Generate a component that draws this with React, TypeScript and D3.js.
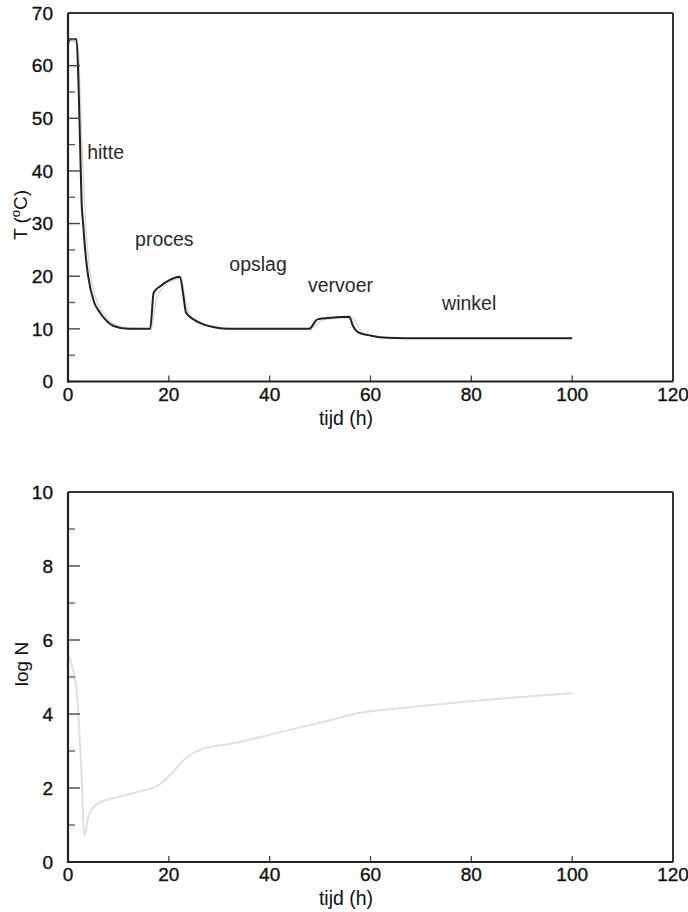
import React from "react";
import * as d3 from "d3";

// Temperature of the chain (dark line) and product temperature (light line)
const tempTime = [0, 0.3, 1.7, 2.1, 2.4, 2.7, 3.0, 3.5, 4.0, 5.2, 6.2, 7.2, 9.2, 12, 16.3, 17.0, 18.3, 20.2, 22.2, 22.9, 23.4, 24.9, 27, 29, 32, 47.8, 49.5, 52.2, 55.8, 56.5, 57.5, 60.1, 63.4, 70, 100];
const tempChain = [64, 65, 65, 56, 45, 34, 30, 24, 20, 15, 13.3, 12, 10.5, 10, 10, 16.9, 18.1, 19.3, 19.9, 16.2, 13.1, 11.8, 10.8, 10.3, 10, 10, 11.8, 12.1, 12.3, 10.6, 9.4, 8.7, 8.3, 8.2, 8.2];

const productTime = [0, 2.0, 2.5, 3.0, 3.5, 4.2, 5.3, 7, 9, 12, 16.5, 17.5, 18.5, 20.5, 22.5, 23.3, 24, 26, 29, 32, 48.2, 49.5, 51, 56.5, 57.5, 58.5, 61, 65, 100];
const productTemp = [65, 64, 52, 40, 30, 22, 16.5, 13, 11, 10.2, 10, 15.5, 17.5, 19, 19.8, 15, 13, 11.2, 10.4, 10, 10, 11, 11.8, 12.1, 10.5, 9.3, 8.6, 8.2, 8.2];

// Microbial count over the same period
const countTime = [0, 1, 1.8, 2.3, 2.8, 3.2, 4.2, 6.2, 10.1, 14, 18, 20.6, 23.3, 26.6, 32.6, 40.9, 52.2, 57.4, 62, 78.6, 100];
const logCount = [5.6, 5.2, 4.5, 3.4, 2.0, 0.7, 1.3, 1.6, 1.76, 1.9, 2.08, 2.4, 2.8, 3.05, 3.2, 3.47, 3.84, 4.02, 4.1, 4.33, 4.56];

const xTicks = [0, 20, 40, 60, 80, 100, 120];
const tempTicks = [0, 10, 20, 30, 40, 50, 60, 70];
const countTicks = [0, 2, 4, 6, 8, 10];

const phaseNames = ["hitte", "proces", "opslag", "vervoer", "winkel"];
const phaseTime = [3.8, 13.3, 32, 47.6, 74.2];
const phaseTemp = [42.2, 25.8, 20.9, 17, 13.6];

const FONT = "'Liberation Sans', Arial, Helvetica, sans-serif";

type Panel = {
  top: number;
  bottom: number;
  yMax: number;
  yTicks: number[];
  minorStep: number;
};

const LEFT = 68;
const RIGHT = 673;

function Frame({ p, x, y }: { p: Panel; x: d3.ScaleLinear<number, number>; y: d3.ScaleLinear<number, number> }) {
  const minor = d3.range(0, p.yMax + 1e-9, p.minorStep).filter((v) => !p.yTicks.includes(v));
  const label = { fontSize: 19, fill: "#111", fontFamily: FONT, stroke: "#111", strokeWidth: 0.35 };
  return (
    <g>
      {/* y ticks, inward */}
      {p.yTicks.map((v) => (
        <line key={"M" + v} x1={LEFT} x2={LEFT + 12} y1={y(v)} y2={y(v)} stroke="#444" strokeWidth={1.4} />
      ))}
      {minor.map((v) => (
        <line key={"m" + v} x1={LEFT} x2={LEFT + 7} y1={y(v)} y2={y(v)} stroke="#555" strokeWidth={1.3} />
      ))}
      {/* x ticks, inward */}
      {xTicks.map((v) => (
        <line key={"x" + v} x1={x(v)} x2={x(v)} y1={p.bottom} y2={p.bottom - 6} stroke="#444" strokeWidth={1.3} />
      ))}
      {/* box */}
      <line x1={LEFT} x2={RIGHT} y1={p.top} y2={p.top} stroke="#333" strokeWidth={2} />
      <line x1={RIGHT} x2={RIGHT} y1={p.top} y2={p.bottom} stroke="#333" strokeWidth={2} />
      <line x1={LEFT} x2={LEFT} y1={p.top} y2={p.bottom + 1} stroke="#222" strokeWidth={2.2} />
      <line x1={LEFT - 1} x2={RIGHT} y1={p.bottom} y2={p.bottom} stroke="#222" strokeWidth={2.2} />
      {/* tick labels */}
      {p.yTicks.map((v) => (
        <text key={"yl" + v} x={53} y={y(v)} dy="0.36em" textAnchor="end" {...label}>
          {v}
        </text>
      ))}
      {xTicks.map((v) => (
        <text key={"xl" + v} x={x(v)} y={p.bottom + 19} textAnchor="middle" {...label}>
          {v}
        </text>
      ))}
      <text x={346} y={p.bottom + 43} textAnchor="middle" fontSize={19.5} fill="#111" fontFamily={FONT}>
        tijd (h)
      </text>
    </g>
  );
}

export default function App() {
  const x = d3.scaleLinear().domain([0, 120]).range([LEFT, RIGHT]);

  const topP: Panel = { top: 13, bottom: 381.5, yMax: 70, yTicks: tempTicks, minorStep: 5 };
  const botP: Panel = { top: 492, bottom: 862, yMax: 10, yTicks: countTicks, minorStep: 1 };

  const yT = d3.scaleLinear().domain([0, 70]).range([topP.bottom, topP.top]);
  const yN = d3.scaleLinear().domain([0, 10]).range([botP.bottom, botP.top]);

  const lineT = d3
    .line<[number, number]>()
    .x((d) => x(d[0]))
    .y((d) => yT(d[1]))
    .curve(d3.curveMonotoneX);
  const lineN = d3
    .line<[number, number]>()
    .x((d) => x(d[0]))
    .y((d) => yN(d[1]))
    .curve(d3.curveMonotoneX);

  const chain = tempTime.map((t, i) => [t, tempChain[i]] as [number, number]);
  const product = productTime.map((t, i) => [t, productTemp[i]] as [number, number]);
  const counts = countTime.map((t, i) => [t, logCount[i]] as [number, number]);

  return (
    <svg
      width={688}
      height={912}
      viewBox="0 0 688 912"
      style={{ position: "absolute", left: 0, top: 0, background: "#fff" }}
    >
      <rect x={0} y={0} width={688} height={912} fill="#fff" />

      {/* Temperature panel */}
      <path d={lineT(product) || ""} fill="none" stroke="#d6d6d6" strokeWidth={1.3} />
      <path d={lineT(chain) || ""} fill="none" stroke="#222" strokeWidth={2} strokeLinejoin="round" />
      <Frame p={topP} x={x} y={yT} />
      {phaseNames.map((name, i) => (
        <text key={name} x={x(phaseTime[i])} y={yT(phaseTemp[i])} fontSize={19.5} fill="#2a2a2a" fontFamily={FONT}>
          {name}
        </text>
      ))}
      <text transform="translate(27,215) rotate(-90)" textAnchor="middle" fontSize={19} fill="#111" fontFamily={FONT}>
        T (<tspan baselineShift="super" fontSize={13}>o</tspan>C)
      </text>

      {/* Count panel */}
      <path d={lineN(counts) || ""} fill="none" stroke="#e0e0e0" strokeWidth={2} />
      <Frame p={botP} x={x} y={yN} />
      <text transform="translate(28,664) rotate(-90)" textAnchor="middle" fontSize={19} fill="#111" fontFamily={FONT}>
        log N
      </text>
    </svg>
  );
}
